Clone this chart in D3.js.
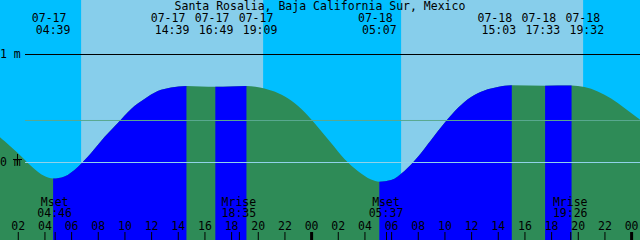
<!DOCTYPE html>
<html>
<head>
<meta charset="utf-8">
<script src="https://cdn.jsdelivr.net/npm/d3@7"></script>
<style>
  body { margin: 0; background: #fff; }
  svg { display: block; }
  text { font-family: 'DejaVu Sans Mono', monospace; font-size: 11.5px; fill: #000; }
</style>
</head>
<body>
<div id="svg-container"></div>
<script>
/* global d3 */
(function () {
  'use strict'

  var title = 'Santa Rosalia, Baja California Sur, Mexico'

  // tide height readings, hours since 07-17 00:00 and metres
  var tideHours = [0, 1, 2, 3, 4, 4.65, 5.5, 6.5, 7.5, 8.5, 9.5, 10.5, 11.5,
    12.5, 13.5, 14.65, 16.82, 19.15, 20.5, 21.5, 22.5, 23.5, 24.5, 25.5, 26.5,
    27.5, 28.5, 29.12, 30, 31, 32, 33, 34, 35, 36, 37, 38, 39.05, 41.55, 43.53,
    44.5, 45.5, 46.5, 47.5, 48.5, 49]
  var tideHeights = [0.30, 0.194, 0.083, -0.037, -0.13, -0.153, -0.134, -0.046,
    0.083, 0.231, 0.361, 0.491, 0.583, 0.657, 0.69, 0.704, 0.696, 0.704, 0.68,
    0.639, 0.569, 0.463, 0.324, 0.176, 0.028, -0.083, -0.162, -0.182, -0.167,
    -0.083, 0.046, 0.204, 0.361, 0.5, 0.602, 0.662, 0.694, 0.71, 0.706, 0.708,
    0.694, 0.653, 0.588, 0.5, 0.407, 0.361]

  // high / low tide events
  var eventDates = ['07-17', '07-17', '07-17', '07-17', '07-18', '07-18', '07-18', '07-18']
  var eventTimes = ['04:39', '14:39', '16:49', '19:09', '05:07', '15:03', '17:33', '19:32']
  var eventTypes = ['low', 'high', 'low', 'high', 'low', 'high', 'low', 'high']

  // moon rise / set
  var moonNames = ['Mset', 'Mrise', 'Mset', 'Mrise']
  var moonDates = ['07-17', '07-17', '07-18', '07-18']
  var moonTimes = ['04:46', '18:35', '05:37', '19:26']

  // daylight
  var sunDates = ['07-17', '07-18']
  var sunrises = ['06:45', '06:45']
  var sunsets = ['20:24', '20:24']

  var levelTicks = [1, 0]
  var meanLevel = 0.389
  var firstDate = '07-17'

  var dim = { w: 640, h: 240 }

  function toHours (date, time) {
    var day = +date.slice(3) - +firstDate.slice(3)
    var p = time.split(':')
    return day * 24 + (+p[0]) + (+p[1]) / 60
  }

  var x = d3.scaleLinear().domain([2 / 3, 48 + 2 / 3]).range([0, dim.w])
  var y = d3.scaleLinear().domain([0, 1]).range([162, 54])

  var tide = tideHours.map(function (t, i) { return { t: t, h: tideHeights[i] } })
  var events = eventTimes.map(function (t, i) {
    return { t: toHours(eventDates[i], t), date: eventDates[i], time: t, type: eventTypes[i] }
  })

  var svg = d3.select('#svg-container').append('svg')
    .attr('width', dim.w)
    .attr('height', dim.h)

  // Sky: night then daylight bands
  svg.append('rect')
    .attr('width', dim.w).attr('height', dim.h)
    .attr('fill', '#00bfff')
  svg.selectAll('.day').data(sunDates).enter().append('rect')
    .attr('class', 'day')
    .attr('x', function (d, i) { return x(toHours(d, sunrises[i])) })
    .attr('width', function (d, i) { return x(toHours(d, sunsets[i])) - x(toHours(d, sunrises[i])) })
    .attr('y', 0).attr('height', dim.h)
    .attr('fill', '#87ceeb')

  // Water: area under the tide curve, coloured by flood / ebb
  var area = d3.area()
    .x(function (d) { return x(d.t) })
    .y0(dim.h)
    .y1(function (d) { return y(d.h) })
    .curve(d3.curveMonotoneX)

  svg.append('clipPath').attr('id', 'water')
    .append('path').datum(tide).attr('d', area)

  var water = svg.append('g').attr('clip-path', 'url(#water)')
  water.append('rect')
    .attr('width', dim.w).attr('height', dim.h)
    .attr('fill', '#2e8b57')

  var floods = []
  events.forEach(function (e, i) {
    if (e.type === 'low') {
      var next = events[i + 1]
      floods.push([e.t, next ? next.t : 49])
    }
  })
  water.selectAll('.flood').data(floods).enter().append('rect')
    .attr('class', 'flood')
    .attr('x', function (d) { return x(d[0]) })
    .attr('width', function (d) { return x(d[1]) - x(d[0]) })
    .attr('y', 0).attr('height', dim.h)
    .attr('fill', '#0000ff')

  // Level lines
  svg.append('line')
    .attr('x1', 25).attr('x2', dim.w)
    .attr('y1', y(meanLevel) + 0.5).attr('y2', y(meanLevel) + 0.5)
    .attr('stroke', '#5aa890')
  svg.append('line')
    .attr('x1', 25).attr('x2', dim.w)
    .attr('y1', y(0) + 0.5).attr('y2', y(0) + 0.5)
    .attr('stroke', '#90d2ea')
  svg.append('line')
    .attr('x1', 25).attr('x2', dim.w)
    .attr('y1', y(1) + 0.5).attr('y2', y(1) + 0.5)
    .attr('stroke', '#000')

  svg.selectAll('.level').data(levelTicks).enter().append('text')
    .attr('class', 'level')
    .attr('x', 0)
    .attr('y', function (d) { return y(d) + 4 })
    .text(function (d) { return d + ' m' })

  // small cross at datum
  svg.append('path')
    .attr('d', 'M13,' + (y(0) - 3 + 0.5) + 'H22M' + 17.5 + ',' + (y(0) - 8) + 'V' + (y(0) + 3))
    .attr('stroke', '#000')
    .attr('fill', 'none')

  // Title
  svg.append('text')
    .attr('x', dim.w / 2).attr('y', 10)
    .attr('text-anchor', 'middle')
    .text(title)

  // Tide event labels, spread apart where they crowd
  var gap = 44
  var groups = []
  events.forEach(function (e) {
    e.px = x(e.t)
    var g = groups[groups.length - 1]
    if (g && e.px - g[g.length - 1].px < gap) g.push(e)
    else groups.push([e])
  })
  groups.forEach(function (g) {
    var mean = d3.mean(g, function (e) { return e.px })
    g.forEach(function (e, i) { e.lx = mean + (i - (g.length - 1) / 2) * gap })
  })

  var labels = svg.selectAll('.event').data(events).enter().append('g')
    .attr('class', 'event')
    .attr('transform', function (d) { return 'translate(' + d.lx + ',0)' })
  labels.append('text')
    .attr('x', -4).attr('y', 22)
    .attr('text-anchor', 'middle')
    .text(function (d) { return d.date })
  labels.append('text')
    .attr('y', 34)
    .attr('text-anchor', 'middle')
    .text(function (d) { return d.time })

  // Moon labels
  var moonHours = moonTimes.map(function (t, i) { return toHours(moonDates[i], t) })
  var moon = svg.selectAll('.moon').data(moonHours).enter().append('g')
    .attr('class', 'moon')
    .attr('transform', function (d) { return 'translate(' + x(d) + ',0)' })
  moon.append('text')
    .attr('y', 206)
    .attr('text-anchor', 'middle')
    .text(function (d, i) { return moonNames[i] })
  moon.append('text')
    .attr('y', 217)
    .attr('text-anchor', 'middle')
    .text(function (d, i) { return moonTimes[i] })

  // Time axis
  var hourAxis = d3.axisTop(x)
    .tickValues(d3.range(2, 49, 2))
    .tickSize(8)
    .tickPadding(2)
    .tickFormat(function (d) { return d3.format('02')(d % 24) })

  var axisG = svg.append('g')
    .attr('transform', 'translate(0,' + dim.h + ')')
    .call(hourAxis)
  axisG.select('.domain').remove()
  axisG.attr('font-family', null).attr('font-size', null)
  axisG.selectAll('.tick line')
    .attr('stroke', '#000')
    .attr('stroke-width', function (d) { return d % 24 === 0 ? 3 : 1 })
  axisG.selectAll('.tick text').attr('fill', '#000')

  var moonAxis = d3.axisTop(x)
    .tickValues(moonHours)
    .tickSize(8)
    .tickFormat('')
  var moonG = svg.append('g')
    .attr('transform', 'translate(0,' + dim.h + ')')
    .call(moonAxis)
  moonG.select('.domain').remove()
  moonG.selectAll('.tick line').attr('stroke', '#000')
}())
</script>
</body>
</html>
